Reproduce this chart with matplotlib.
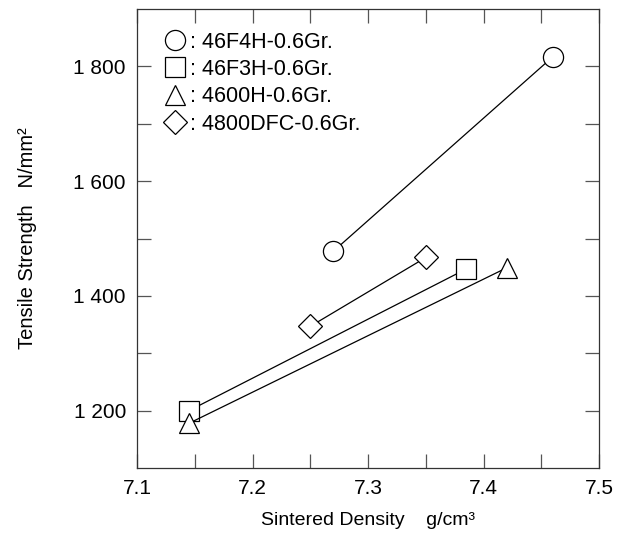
import matplotlib.pyplot as plt
from matplotlib.lines import Line2D

plt.rcParams['font.family'] = ['Liberation Sans', 'DejaVu Sans']

# sintered density (g/cm3) and tensile strength (N/mm2) per material
names = ['46F4H-0.6Gr.', '46F3H-0.6Gr.', '4600H-0.6Gr.', '4800DFC-0.6Gr.']
markers = ['o', 's', '^', 'D']
sizes = [14.5, 14.5, 15, 12]
density = [[7.27, 7.46], [7.145, 7.385], [7.145, 7.42], [7.25, 7.35]]
strength = [[1478, 1817], [1200, 1447], [1178, 1449], [1347, 1467]]

yticks = [1200, 1400, 1600, 1800]
ytick_labels = ['1 200', '1 400', '1 600', '1 800']
xticks = [7.1, 7.2, 7.3, 7.4, 7.5]

fig = plt.figure(figsize=(6.26, 5.37), dpi=100)
ax = fig.add_axes([0.219, 0.1285, 0.738, 0.8545])

handles = []
for name, m, ms, x, y in zip(names, markers, sizes, density, strength):
    ax.plot(x, y, color='black', lw=0.9, marker=m, ms=ms,
            mfc='white', mec='black', mew=0.9)
    handles.append(Line2D([], [], ls='none', marker=m, ms=ms,
                          mfc='white', mec='black', mew=0.9))

ax.set_xlim(7.1, 7.5)
ax.set_ylim(1100, 1900)
ax.set_xticks(xticks)
ax.set_xticklabels([f'{v:.1f}' for v in xticks])
ax.set_xticks([7.15, 7.25, 7.35, 7.45], minor=True)
ax.set_yticks(yticks)
ax.set_yticklabels(ytick_labels)
ax.set_yticks([1300, 1500, 1700], minor=True)

ax.tick_params(which='both', direction='in', top=True, right=True,
               length=10, width=0.9, color='#555555', labelsize=15, pad=8)
for s in ax.spines.values():
    s.set_linewidth(0.9)
    s.set_color('#333333')

ax.set_xlabel('Sintered Density    g/cm³', fontsize=14, labelpad=10)
ax.set_ylabel('Tensile Strength   N/mm²', fontsize=14.5, labelpad=26)

ax.legend(handles, [': ' + n for n in names], loc='upper left',
          bbox_to_anchor=(0.04, 0.97), frameon=False, fontsize=15.5,
          handlelength=1.0, handletextpad=0.2, labelspacing=0.3,
          borderaxespad=0, numpoints=1)

fig.savefig('out.png', dpi=100)
